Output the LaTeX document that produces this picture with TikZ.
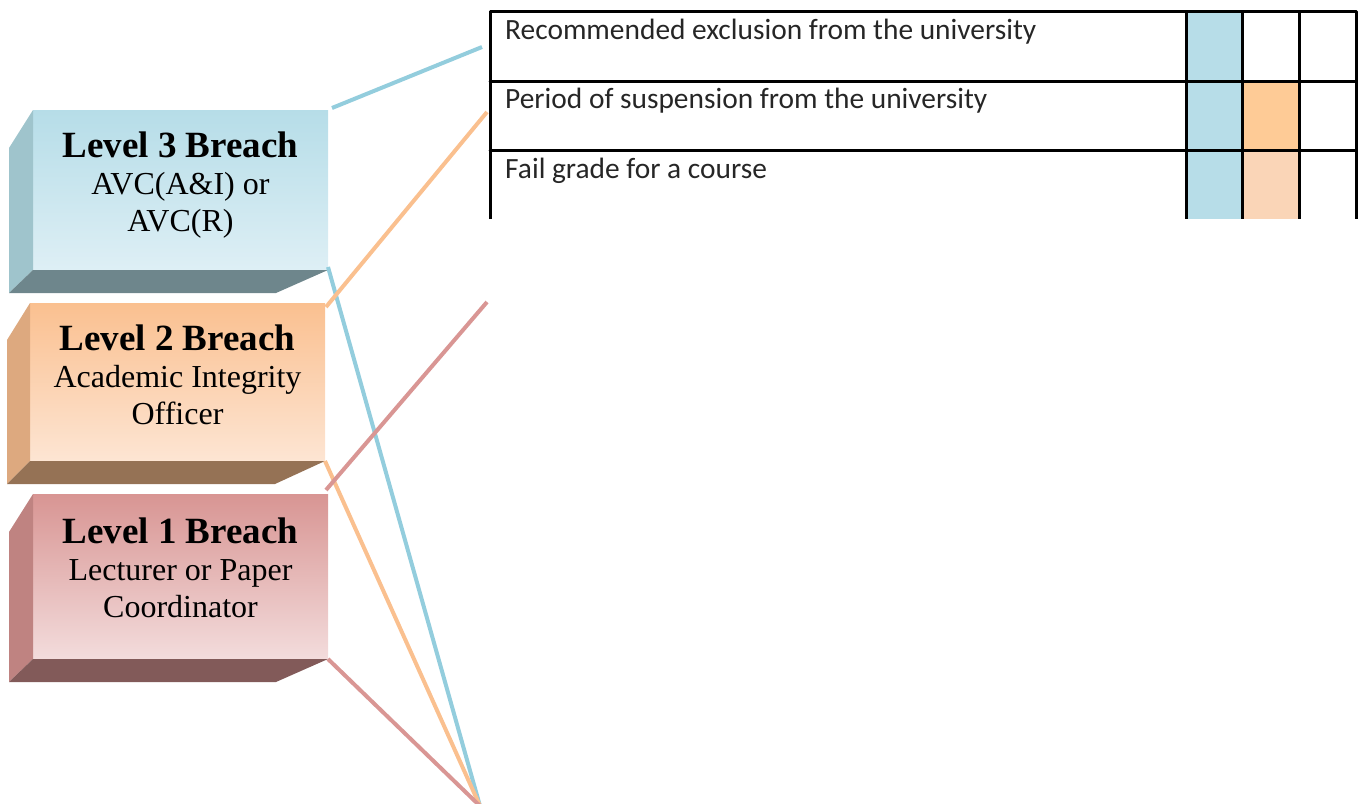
\documentclass[tikz,border=0pt]{standalone}
\usepackage{fontspec}
\setmainfont{Liberation Serif}
\newfontfamily\cellfont{Carlito}
\usetikzlibrary{positioning}
\definecolor{bluetop}{HTML}{B6DDE8}
\definecolor{bluebot}{HTML}{DEEFF5}
\definecolor{blueside}{HTML}{9FC4CC}
\definecolor{bluebase}{HTML}{6E868C}
\definecolor{bluelink}{HTML}{93CDDD}
\definecolor{orangetop}{HTML}{FAC090}
\definecolor{orangebot}{HTML}{FDE5D3}
\definecolor{orangeside}{HTML}{DDA97F}
\definecolor{orangebase}{HTML}{957255}
\definecolor{orangelink}{HTML}{FAC08F}
\definecolor{pinktop}{HTML}{D89593}
\definecolor{pinkbot}{HTML}{F3DCDC}
\definecolor{pinkside}{HTML}{BF8381}
\definecolor{pinkbase}{HTML}{825A59}
\definecolor{pinklink}{HTML}{D99694}
\definecolor{cellblue}{HTML}{B7DDE8}
\definecolor{cellorange}{HTML}{FECB96}
\definecolor{cellpeach}{HTML}{FAD5B7}
\begin{document}
\begin{tikzpicture}[x=1pt,y=-1pt,line cap=round,line join=round,
    front/.style={minimum width=295pt,inner sep=0pt,outer sep=0pt},
    breachtext/.style={align=center,font=\fontsize{32}{37}\selectfont},
    rowtext/.style={anchor=base west,inner sep=0pt,font=\cellfont\fontsize{29.4}{32}\selectfont,text=black!85},
    link/.style={line width=4pt,line cap=butt}]
        \useasboundingbox (0,0) rectangle (1362,803);
        % level 3
        \node[front,minimum height=160pt,top color=bluetop,bottom color=bluebot] (l3) at (180.5,190) {};
        \fill[blueside] (l3.north west) -- ++(-24,38) -- ([shift={(-24,23)}]l3.south west) -- (l3.south west) -- cycle;
        \fill[bluebase] (l3.south west) -- (l3.south east) -- ([shift={(-52,23)}]l3.south east) -- ([shift={(-24,23)}]l3.south west) -- cycle;
        \node[breachtext] (l3text) at ([shift={(0,-5)}]l3.center) {{\fontsize{37}{40}\selectfont\bfseries Level 3 Breach}\\AVC(A\&I) or\\AVC(R)};
        % level 2
        \node[front,minimum height=158pt,top color=orangetop,bottom color=orangebot] (l2) at (177.5,382) {};
        \fill[orangeside] (l2.north west) -- ++(-23,37) -- ([shift={(-23,23)}]l2.south west) -- (l2.south west) -- cycle;
        \fill[orangebase] (l2.south west) -- (l2.south east) -- ([shift={(-50,23)}]l2.south east) -- ([shift={(-23,23)}]l2.south west) -- cycle;
        \node[breachtext] (l2text) at ([shift={(0,-7)}]l2.center) {{\fontsize{37}{40}\selectfont\bfseries Level 2 Breach}\\Academic Integrity\\Officer};
        % level 1
        \node[front,minimum height=165pt,top color=pinktop,bottom color=pinkbot] (l1) at (180.5,576.5) {};
        \fill[pinkside] (l1.north west) -- ++(-24,38) -- ([shift={(-24,23)}]l1.south west) -- (l1.south west) -- cycle;
        \fill[pinkbase] (l1.south west) -- (l1.south east) -- ([shift={(-52,23)}]l1.south east) -- ([shift={(-24,23)}]l1.south west) -- cycle;
        \node[breachtext] (l1text) at ([shift={(0,-9)}]l1.center) {{\fontsize{37}{40}\selectfont\bfseries Level 1 Breach}\\Lecturer or Paper\\Coordinator};
        % table
        \fill[cellblue] (1186,11) rectangle (1242,219);
        \fill[cellorange] (1242,81) rectangle (1299,150);
        \fill[cellpeach] (1242,150) rectangle (1299,219);
        \draw[line width=3pt,line cap=butt] (490,219) -- (490,11) -- (1356,11) -- (1356,219);
        \draw[line width=3pt] (490,81) -- (1356,81);
        \draw[line width=3pt] (490,150) -- (1356,150);
        \draw[line width=3pt,line cap=butt] (1186,11) -- (1186,219);
        \draw[line width=3pt,line cap=butt] (1242,11) -- (1242,219);
        \draw[line width=3pt,line cap=butt] (1299,11) -- (1299,219);
        \node[rowtext] (row1) at (505,39) {Recommended exclusion from the university};
        \node[rowtext] (row2) at (505,108) {Period of suspension from the university};
        \node[rowtext] (row3) at (505,178) {Fail grade for a course};
        % connectors
        \coordinate (end1) at (482,47);
        \coordinate (end2) at (487,112);
        \coordinate (end4) at (487,302);
        \coordinate (apex) at (480,806);
        \draw[link,bluelink] ([shift={(4,-2)}]l3.north east) -- (end1);
        \draw[link,bluelink] ([shift={(0,-3)}]l3.south east) -- (apex);
        \draw[link,orangelink] ([shift={(1,4)}]l2.north east) -- (end2);
        \draw[link,orangelink] (l2.south east) -- (apex);
        \draw[link,pinklink] ([shift={(-2,-4)}]l1.north east) -- (end4);
        \draw[link,pinklink] (l1.south east) -- (apex);
\end{tikzpicture}
\end{document}
